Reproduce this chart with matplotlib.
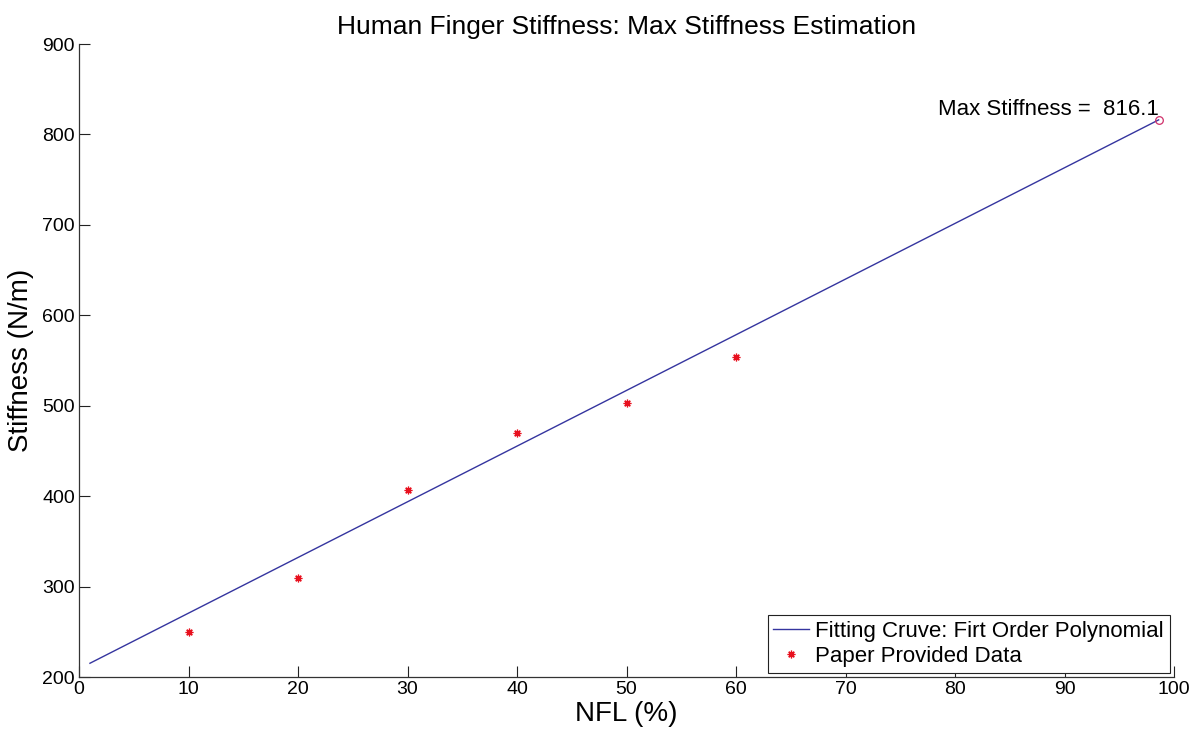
import matplotlib
matplotlib.use("Agg")
import matplotlib.pyplot as plt
import numpy as np

# Data
nfl_pct = [10, 20, 30, 40, 50, 60]
stiffness = [250, 310, 407, 470, 503, 554]

# Fitted first order polynomial (endpoints)
fit_x = [1.0, 98.6]
fit_y = [215.2, 816.1]

max_x = 98.6
max_stiffness = 816.1

x_ticks = [0, 10, 20, 30, 40, 50, 60, 70, 80, 90, 100]
y_ticks = [200, 300, 400, 500, 600, 700, 800, 900]

plt.rcParams['font.family'] = ['Liberation Sans', 'DejaVu Sans']

fig = plt.figure(figsize=(12.01, 7.36), dpi=100)
ax = fig.add_axes([79 / 1201, 1 - 677 / 736, (1174 - 79) / 1201, (677 - 44) / 736])

ax.plot(fit_x, fit_y, color='#35359f', lw=1.0,
        label='Fitting Cruve: Firt Order Polynomial')
ax.plot(nfl_pct, stiffness, linestyle='none', marker=(8, 2, 0), markersize=5.5,
        color='#e8101e', markeredgewidth=0.9, label='Paper Provided Data')
ax.plot([max_x], [max_stiffness], linestyle='none', marker='o', markersize=5.5,
        markerfacecolor='none', markeredgecolor='#d0306a', markeredgewidth=0.9)
ax.annotate('Max Stiffness =  %.1f' % max_stiffness, xy=(max_x, max_stiffness),
            ha='right', va='bottom', fontsize=16, color='black')

ax.set_xlim(0, 100)
ax.set_ylim(200, 900)
ax.set_xticks(x_ticks)
ax.set_yticks(y_ticks)
ax.tick_params(direction='in', length=8, width=0.8, labelsize=14, pad=3,
               colors='#222222', labelcolor='black')
for side in ['top', 'right']:
    ax.spines[side].set_visible(False)
for side in ['left', 'bottom']:
    ax.spines[side].set_color('#333333')
    ax.spines[side].set_linewidth(0.9)

ax.set_xlabel('NFL (%)', fontsize=20, labelpad=2)
ax.set_ylabel('Stiffness (N/m)', fontsize=20, labelpad=6)
ax.set_title('Human Finger Stiffness: Max Stiffness Estimation', fontsize=19, pad=7)

leg = ax.legend(loc='lower right', fontsize=16, frameon=True, fancybox=False,
                framealpha=1, edgecolor='#222222', borderaxespad=0.2,
                borderpad=0.25, labelspacing=0.2, handlelength=1.6,
                handletextpad=0.3)
leg.get_frame().set_linewidth(0.8)

fig.savefig('out.png', dpi=100)
